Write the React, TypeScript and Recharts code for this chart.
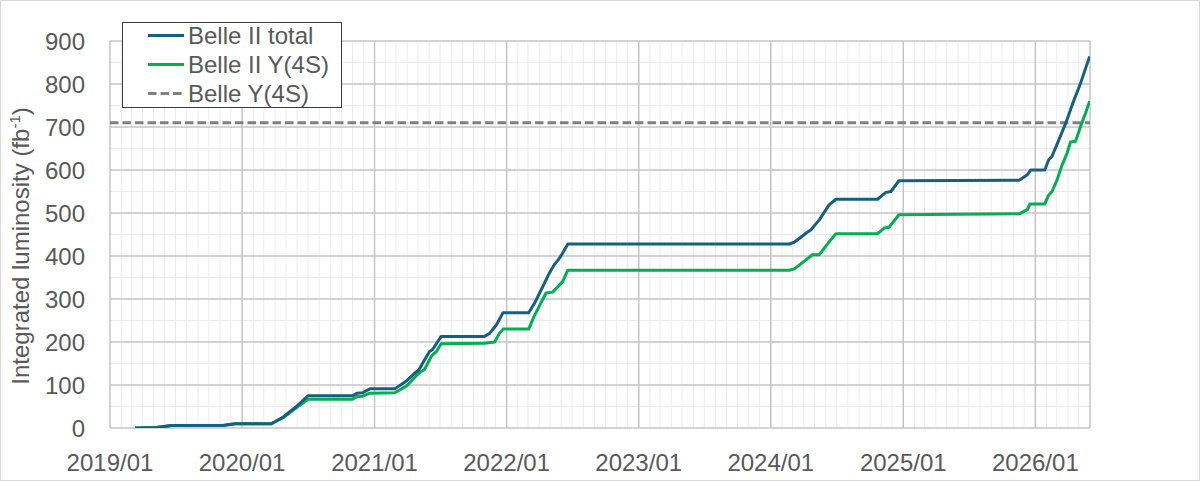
import React from 'react';
import { LineChart, Line, XAxis, YAxis, ReferenceLine, Legend } from 'recharts';

const FONT = '"Liberation Sans", Arial, sans-serif';
const TEXT = '#595959';

const toTs = (s: string) => {
  const [y, m, dd] = s.split('-').map(Number);
  return Date.UTC(y, m - 1, dd);
};

// ---- data ----
const SERIES_NAMES = ['Belle II total', 'Belle II Y(4S)', 'Belle Y(4S)'];

const TOTAL_DATES = [
  '2019-03-11', '2019-05-10', '2019-06-20', '2019-11-09', '2019-12-12', '2020-03-22',
  '2020-04-23', '2020-05-30', '2020-07-01', '2020-11-01', '2020-11-13', '2020-11-29',
  '2020-12-19', '2021-02-26', '2021-03-31', '2021-04-19', '2021-05-04', '2021-05-19',
  '2021-06-02', '2021-06-10', '2021-07-04', '2021-11-01', '2021-11-15', '2021-12-04',
  '2021-12-22', '2022-03-03', '2022-03-19', '2022-04-11', '2022-04-29', '2022-05-13',
  '2022-05-27', '2022-06-05', '2022-06-19', '2024-02-21', '2024-03-06', '2024-04-07',
  '2024-04-21', '2024-05-14', '2024-06-10', '2024-06-29', '2024-10-22', '2024-11-14',
  '2024-11-28', '2024-12-20', '2025-11-17', '2025-12-10', '2025-12-19', '2026-01-27',
  '2026-02-07', '2026-02-16', '2026-03-07', '2026-03-26', '2026-04-13', '2026-05-06',
  '2026-05-31',
];
const TOTAL_VALUES = [
  0, 1, 6, 6, 10, 10,
  25, 50, 75, 75, 81, 82,
  91, 91, 110, 125, 136, 158,
  178, 182, 213, 213, 220, 240,
  268, 268, 290, 329, 360, 380,
  395, 407, 428, 428, 432, 453,
  461, 484, 519, 532, 532, 548,
  550, 575, 576, 589, 600, 600,
  624, 632, 670, 709, 752, 802,
  864,
];

const Y4S_DATES = [
  '2019-03-11', '2019-05-10', '2019-06-20', '2019-11-09', '2019-12-12', '2020-03-22',
  '2020-04-23', '2020-05-30', '2020-07-01', '2020-11-01', '2020-11-13', '2020-11-29',
  '2020-12-19', '2021-02-26', '2021-03-31', '2021-04-19', '2021-05-04', '2021-05-19',
  '2021-06-07', '2021-06-21', '2021-07-04', '2021-11-01', '2021-11-29', '2021-12-12',
  '2021-12-22', '2022-03-03', '2022-03-19', '2022-04-20', '2022-05-08', '2022-05-22',
  '2022-06-05', '2022-06-19', '2024-02-21', '2024-03-06', '2024-04-07', '2024-04-25',
  '2024-05-14', '2024-06-15', '2024-06-29', '2024-10-22', '2024-11-09', '2024-11-23',
  '2024-12-20', '2025-11-17', '2025-12-10', '2025-12-17', '2026-01-27', '2026-02-07',
  '2026-02-16', '2026-03-02', '2026-03-16', '2026-03-30', '2026-04-08', '2026-04-22',
  '2026-05-06', '2026-05-20', '2026-05-31',
];
const Y4S_VALUES = [
  0, 1, 6, 6, 10, 10,
  24, 47, 67, 67, 73, 74,
  81, 82, 98, 115, 128, 136,
  167, 178, 196, 197, 200, 220,
  230, 230, 262, 314, 316, 328,
  341, 367, 367, 370, 391, 403,
  403, 438, 452, 452, 465, 467,
  496, 498, 508, 521, 521, 542,
  550, 577, 612, 640, 665, 667,
  701, 733, 760,
];

const BELLE_DATES = ['2019-01-01', '2026-06-01'];
const BELLE_VALUES = [710, 710];

const X_DOMAIN = ['2019-01-01', '2026-06-01'];
const YEAR_TICKS = [
  '2019-01-01', '2020-01-01', '2021-01-01', '2022-01-01',
  '2023-01-01', '2024-01-01', '2025-01-01', '2026-01-01',
];
const Y_TICKS = [0, 100, 200, 300, 400, 500, 600, 700, 800, 900];
const Y_MINOR = [50, 150, 250, 350, 450, 550, 650, 750, 850];

// ---- derived tables ----
const totalData = TOTAL_DATES.map((s, i) => ({ t: toTs(s), v: TOTAL_VALUES[i] }));
const y4sData = Y4S_DATES.map((s, i) => ({ t: toTs(s), v: Y4S_VALUES[i] }));
const belleData = BELLE_DATES.map((s, i) => ({ t: toTs(s), v: BELLE_VALUES[i] }));
const xDomain = X_DOMAIN.map(toTs);
const yearTicks = YEAR_TICKS.map(toTs);

const monthTicks: number[] = [];
for (let y = 2019; y <= 2026; y++) {
  for (let m = 0; m < 12; m++) {
    const ts = Date.UTC(y, m, 1);
    if (ts > xDomain[0] && ts < xDomain[1] && m !== 0) monthTicks.push(ts);
  }
}

const fmtDate = (ts: number) => {
  const d = new Date(ts);
  return `${d.getUTCFullYear()}/${String(d.getUTCMonth() + 1).padStart(2, '0')}`;
};

const MAJOR = '#c4c4c4';
const MINOR = '#ececec';

const AxisTitle = () => (
  <text
    x={29}
    y={246}
    transform="rotate(-90 29 246)"
    textAnchor="middle"
    fill={TEXT}
    fontFamily={FONT}
    fontSize={24}
  >
    Integrated luminosity (fb
    <tspan dy={-9} fontSize={15}>-1</tspan>
    <tspan dy={9}>)</tspan>
  </text>
);

const LegendBox = (props: any) => {
  const items = [...(props.payload || [])].sort(
    (a: any, b: any) => SERIES_NAMES.indexOf(a.value) - SERIES_NAMES.indexOf(b.value)
  );
  return (
    <div
      style={{
        width: 220,
        height: 86,
        boxSizing: 'border-box',
        border: '1px solid #3a3a3a',
        background: '#fff',
        fontFamily: FONT,
        fontSize: 24,
        color: TEXT,
        paddingTop: 0,
      }}
    >
      {items.map((it: any, i: number) => (
        <div
          key={it.value}
          style={{ display: 'flex', alignItems: 'center', height: 29, marginTop: i === 0 ? -2 : 0 }}
        >
          <svg width={62} height={29} style={{ flex: 'none' }}>
            <line
              x1={25}
              x2={61}
              y1={14.5}
              y2={14.5}
              stroke={it.color}
              strokeWidth={3}
              strokeDasharray={it.payload?.strokeDasharray}
            />
          </svg>
          <span style={{ marginLeft: 3, whiteSpace: 'nowrap', lineHeight: '29px' }}>{it.value}</span>
        </div>
      ))}
    </div>
  );
};

export default function App() {
  return (
    <div style={{ position: 'absolute', left: 0, top: 0, width: 1200, height: 481, background: '#fff' }}>
      <LineChart
        width={1200}
        height={481}
        margin={{ top: 41, right: 110, left: 0, bottom: 0 }}
      >
        <XAxis
          dataKey="t"
          type="number"
          domain={xDomain}
          ticks={yearTicks}
          tickFormatter={fmtDate}
          allowDataOverflow
          axisLine={false}
          tickLine={false}
          tickSize={0}
          tickMargin={26}
          height={53}
          interval={0}
          tick={{ fill: TEXT, fontSize: 24, fontFamily: FONT }}
        />
        <YAxis
          type="number"
          domain={[0, 900]}
          ticks={Y_TICKS}
          allowDataOverflow
          axisLine={false}
          tickLine={false}
          tickSize={0}
          tickMargin={25}
          width={110}
          interval={0}
          tick={{ fill: TEXT, fontSize: 24, fontFamily: FONT }}
          label={<AxisTitle />}
        />
        {monthTicks.map((ts) => (
          <ReferenceLine key={`mx${ts}`} x={ts} stroke={MINOR} strokeWidth={1} />
        ))}
        {Y_MINOR.map((v) => (
          <ReferenceLine key={`my${v}`} y={v} stroke={MINOR} strokeWidth={1} />
        ))}
        {Y_TICKS.map((v) => (
          <ReferenceLine key={`My${v}`} y={v} stroke={MAJOR} strokeWidth={1.5} />
        ))}
        {[...yearTicks, xDomain[1]].map((ts) => (
          <ReferenceLine key={`Mx${ts}`} x={ts} stroke={MAJOR} strokeWidth={1.5} />
        ))}
        <Legend
          layout="vertical"
          align="center"
          verticalAlign="middle"
          content={<LegendBox />}
          wrapperStyle={{ left: 122, top: 22, width: 220, height: 86 }}
        />
        <Line
          data={belleData}
          dataKey="v"
          name={SERIES_NAMES[2]}
          stroke="#808080"
          strokeWidth={3}
          strokeDasharray="8.5 4"
          dot={false}
          activeDot={false}
          type="linear"
          isAnimationActive={false}
        />
        <Line
          data={y4sData}
          dataKey="v"
          name={SERIES_NAMES[1]}
          stroke="#00b050"
          strokeWidth={3}
          dot={false}
          activeDot={false}
          type="linear"
          strokeLinejoin="round"
          isAnimationActive={false}
        />
        <Line
          data={totalData}
          dataKey="v"
          name={SERIES_NAMES[0]}
          stroke="#156082"
          strokeWidth={3}
          dot={false}
          activeDot={false}
          type="linear"
          strokeLinejoin="round"
          isAnimationActive={false}
        />
      </LineChart>
      <div
        style={{
          position: 'absolute',
          left: 0,
          top: 0,
          width: 1200,
          height: 481,
          boxSizing: 'border-box',
          border: '1px solid #d9d9d9',
          pointerEvents: 'none',
        }}
      />
    </div>
  );
}
